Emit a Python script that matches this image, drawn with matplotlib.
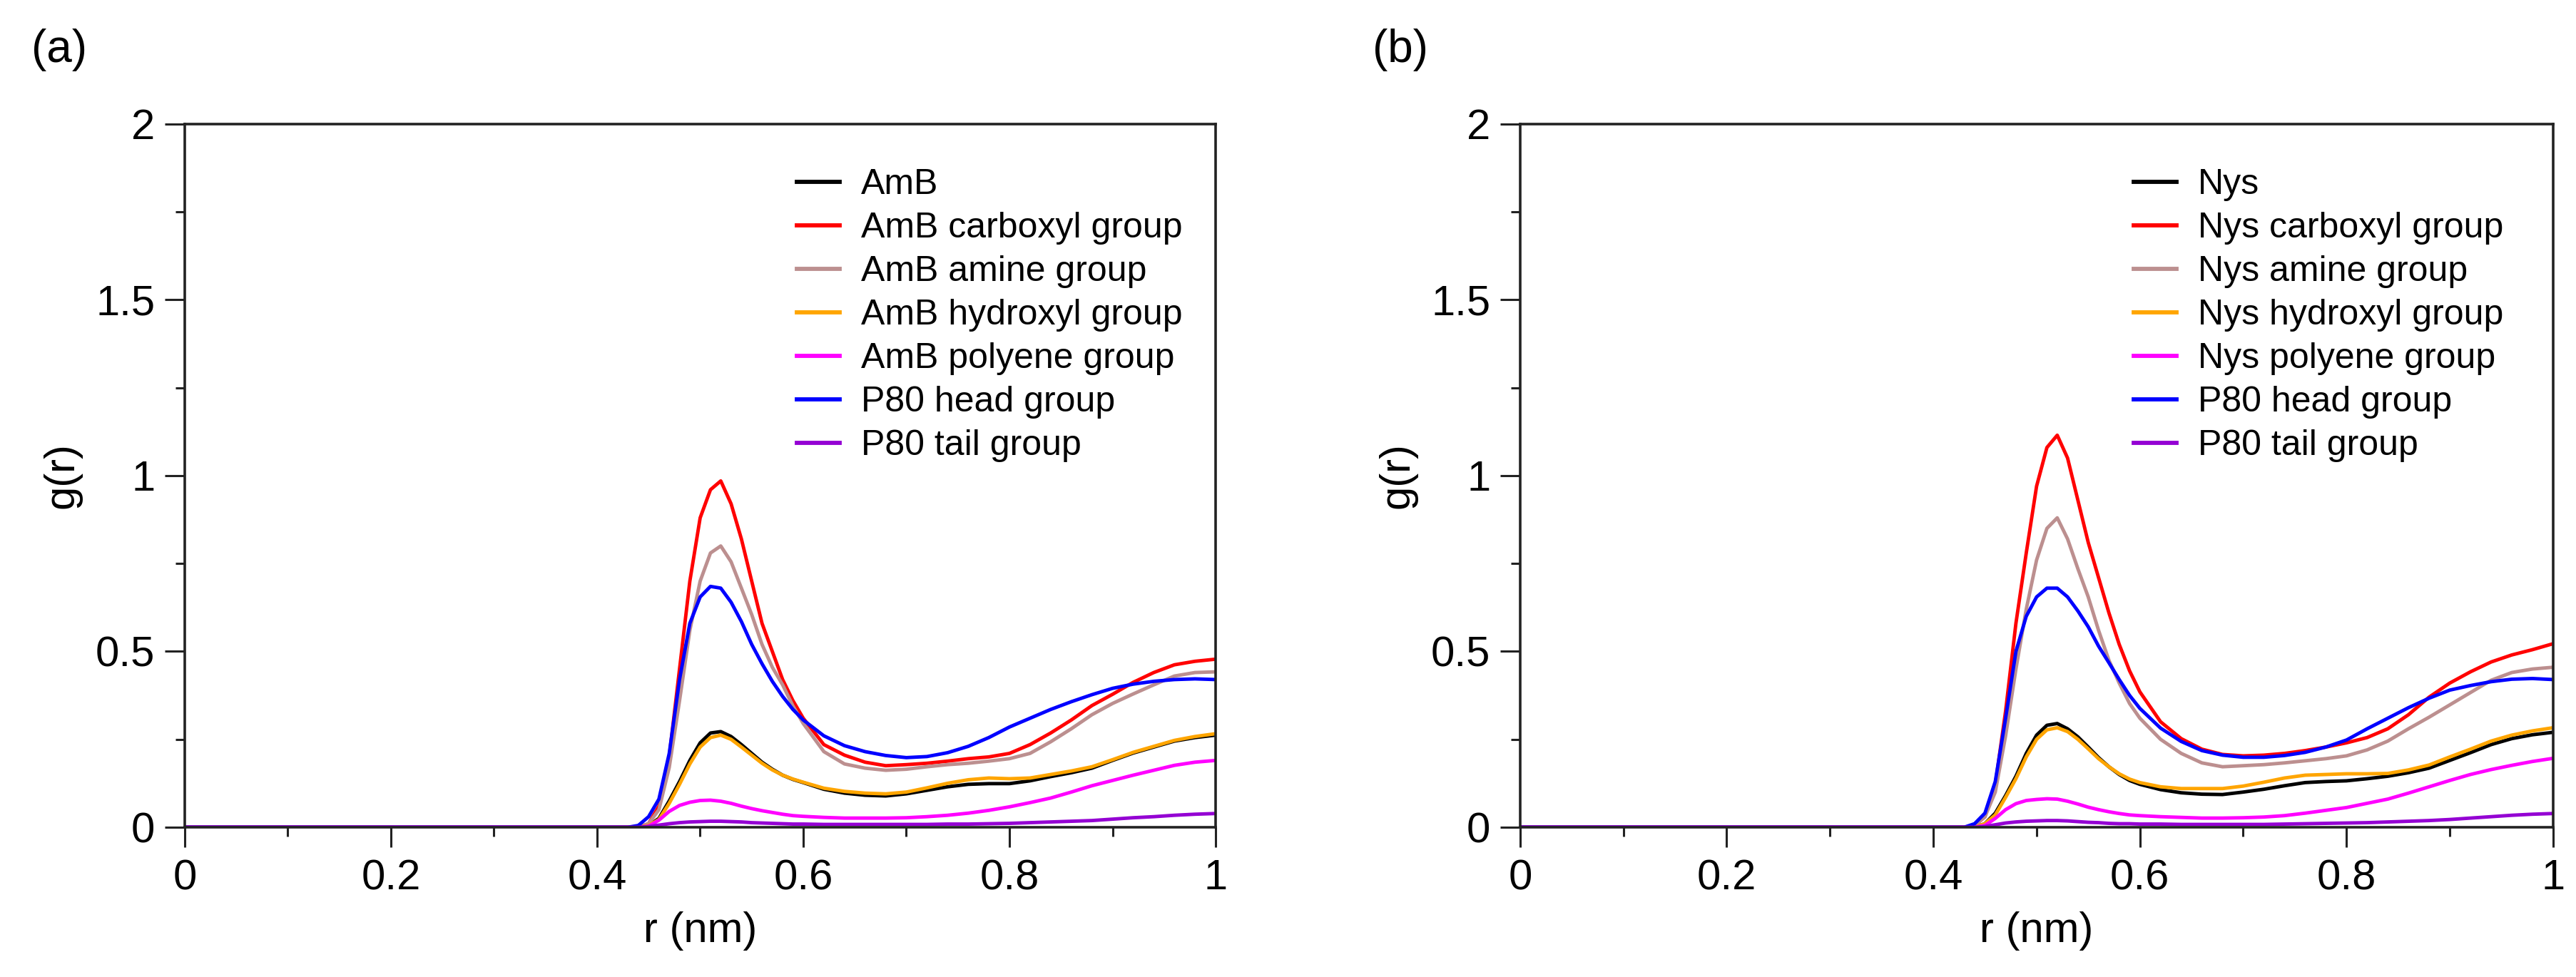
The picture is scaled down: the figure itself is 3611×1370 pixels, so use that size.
import matplotlib
matplotlib.use("Agg")
import matplotlib.pyplot as plt
from matplotlib.ticker import MultipleLocator, FuncFormatter

plt.rcParams['font.family'] = ['Liberation Sans', 'DejaVu Sans']

# r grid (nm)
r = [0, 0.43, 0.44, 0.45, 0.46, 0.47, 0.48, 0.49, 0.50, 0.51, 0.52, 0.53, 0.54,
     0.55, 0.56, 0.57, 0.58, 0.59, 0.60, 0.62, 0.64, 0.66, 0.68, 0.70, 0.72,
     0.74, 0.76, 0.78, 0.80, 0.82, 0.84, 0.86, 0.88, 0.90, 0.92, 0.94, 0.96,
     0.98, 1.00]

# (a) AmB
amb_total = [0, 0, 0, 0.005, 0.025, 0.075, 0.13, 0.19, 0.24, 0.268, 0.272, 0.258, 0.235,
             0.21, 0.185, 0.165, 0.148, 0.136, 0.127, 0.108, 0.097, 0.091, 0.089, 0.095, 0.105,
             0.115, 0.122, 0.124, 0.124, 0.132, 0.144, 0.155, 0.168, 0.19, 0.211, 0.228, 0.245,
             0.255, 0.262]
amb_carboxyl = [0, 0, 0, 0.01, 0.06, 0.20, 0.45, 0.70, 0.88, 0.96, 0.985, 0.92, 0.82,
                0.70, 0.58, 0.50, 0.42, 0.36, 0.31, 0.235, 0.205, 0.185, 0.175, 0.178, 0.182,
                0.188, 0.195, 0.200, 0.210, 0.235, 0.268, 0.305, 0.346, 0.378, 0.412, 0.44, 0.462,
                0.472, 0.478]
amb_amine = [0, 0, 0, 0.01, 0.05, 0.17, 0.36, 0.56, 0.70, 0.78, 0.80, 0.755, 0.68,
             0.605, 0.52, 0.455, 0.405, 0.345, 0.295, 0.215, 0.18, 0.168, 0.162, 0.165, 0.172,
             0.178, 0.182, 0.188, 0.195, 0.21, 0.243, 0.28, 0.32, 0.352, 0.379, 0.405, 0.43,
             0.44, 0.442]
amb_hydroxyl = [0, 0, 0, 0.005, 0.022, 0.068, 0.122, 0.18, 0.228, 0.255, 0.262, 0.25, 0.228,
                0.205, 0.182, 0.163, 0.148, 0.137, 0.128, 0.111, 0.102, 0.097, 0.095, 0.10, 0.112,
                0.125, 0.135, 0.14, 0.138, 0.14, 0.15, 0.16, 0.172, 0.192, 0.213, 0.23, 0.247,
                0.258, 0.266]
amb_polyene = [0, 0, 0, 0.003, 0.02, 0.045, 0.062, 0.071, 0.076, 0.077, 0.074, 0.068, 0.06,
               0.053, 0.047, 0.042, 0.037, 0.033, 0.031, 0.028, 0.026, 0.026, 0.026, 0.027, 0.03,
               0.034, 0.04, 0.048, 0.058, 0.07, 0.083, 0.1, 0.118, 0.133, 0.148, 0.162, 0.176,
               0.185, 0.19]
amb_head = [0, 0, 0.005, 0.03, 0.08, 0.21, 0.42, 0.58, 0.655, 0.685, 0.68, 0.64, 0.585,
            0.52, 0.465, 0.415, 0.372, 0.335, 0.305, 0.26, 0.232, 0.215, 0.204, 0.198, 0.201,
            0.212, 0.23, 0.255, 0.285, 0.31, 0.335, 0.357, 0.377, 0.395, 0.407, 0.415, 0.42,
            0.422, 0.42]
amb_tail = [0, 0, 0, 0.002, 0.006, 0.01, 0.013, 0.015, 0.016, 0.017, 0.017, 0.016, 0.015,
            0.013, 0.012, 0.011, 0.01, 0.009, 0.009, 0.008, 0.008, 0.008, 0.008, 0.008, 0.008,
            0.009, 0.009, 0.01, 0.011, 0.013, 0.015, 0.017, 0.019, 0.023, 0.027, 0.03, 0.034,
            0.037, 0.039]

# (b) Nys
nys_total = [0, 0, 0, 0.01, 0.04, 0.09, 0.145, 0.21, 0.262, 0.29, 0.295, 0.28, 0.257,
             0.228, 0.198, 0.172, 0.15, 0.133, 0.122, 0.107, 0.098, 0.094, 0.093, 0.1, 0.108,
             0.118, 0.127, 0.13, 0.132, 0.138, 0.145, 0.155, 0.168, 0.19, 0.212, 0.235, 0.252,
             0.263, 0.27]
nys_carboxyl = [0, 0, 0.005, 0.03, 0.12, 0.33, 0.58, 0.78, 0.97, 1.08, 1.115, 1.05, 0.93,
                0.81, 0.71, 0.61, 0.52, 0.445, 0.385, 0.30, 0.252, 0.222, 0.207, 0.203, 0.205,
                0.21, 0.218, 0.228, 0.24, 0.255, 0.28, 0.32, 0.37, 0.41, 0.442, 0.47, 0.49,
                0.505, 0.522]
nys_amine = [0, 0, 0.005, 0.03, 0.10, 0.26, 0.45, 0.62, 0.76, 0.85, 0.88, 0.82, 0.735,
             0.655, 0.56, 0.475, 0.41, 0.352, 0.31, 0.25, 0.21, 0.183, 0.172, 0.175, 0.178,
             0.183, 0.189, 0.195, 0.203, 0.22, 0.245, 0.28, 0.313, 0.348, 0.383, 0.418, 0.44,
             0.45, 0.455]
nys_hydroxyl = [0, 0, 0, 0.01, 0.035, 0.085, 0.138, 0.2, 0.25, 0.277, 0.283, 0.272, 0.25,
                0.223, 0.195, 0.172, 0.152, 0.137, 0.127, 0.115, 0.11, 0.11, 0.11, 0.117, 0.128,
                0.14, 0.148, 0.15, 0.152, 0.152, 0.153, 0.163, 0.177, 0.2, 0.222, 0.245, 0.262,
                0.274, 0.283]
nys_polyene = [0, 0, 0, 0.005, 0.025, 0.05, 0.067, 0.076, 0.079, 0.081, 0.08, 0.074, 0.066,
               0.057, 0.05, 0.044, 0.039, 0.035, 0.033, 0.03, 0.028, 0.026, 0.026, 0.027, 0.029,
               0.033, 0.04, 0.048, 0.056, 0.068, 0.08, 0.097, 0.115, 0.133, 0.15, 0.164, 0.176,
               0.187, 0.196]
nys_head = [0, 0, 0.01, 0.04, 0.13, 0.31, 0.50, 0.60, 0.655, 0.68, 0.68, 0.655, 0.615,
            0.57, 0.515, 0.468, 0.42, 0.375, 0.338, 0.282, 0.244, 0.218, 0.205, 0.199, 0.199,
            0.204, 0.213, 0.228, 0.248, 0.28, 0.31, 0.34, 0.367, 0.39, 0.403, 0.414, 0.421,
            0.423, 0.42]
nys_tail = [0, 0, 0, 0.002, 0.007, 0.012, 0.015, 0.017, 0.018, 0.019, 0.019, 0.018, 0.016,
            0.014, 0.013, 0.011, 0.01, 0.01, 0.009, 0.009, 0.008, 0.008, 0.008, 0.008, 0.008,
            0.009, 0.01, 0.011, 0.012, 0.013, 0.015, 0.017, 0.019, 0.022, 0.026, 0.03, 0.034,
            0.037, 0.039]

colors = ['black', '#ff0000', '#bc8f8f', '#ffa500', '#ff00ff', '#0000ff', '#9400d3']
amb_labels = ['AmB', 'AmB carboxyl group', 'AmB amine group', 'AmB hydroxyl group',
              'AmB polyene group', 'P80 head group', 'P80 tail group']
nys_labels = ['Nys', 'Nys carboxyl group', 'Nys amine group', 'Nys hydroxyl group',
              'Nys polyene group', 'P80 head group', 'P80 tail group']
amb_series = [amb_total, amb_carboxyl, amb_amine, amb_hydroxyl, amb_polyene, amb_head, amb_tail]
nys_series = [nys_total, nys_carboxyl, nys_amine, nys_hydroxyl, nys_polyene, nys_head, nys_tail]

fig = plt.figure(figsize=(36.11, 13.70), dpi=100)
ax1 = fig.add_axes([0.0717, 0.1533, 0.4002, 0.7197])
ax2 = fig.add_axes([0.5901, 0.1533, 0.4010, 0.7197])

fmt = FuncFormatter(lambda v, p: '%g' % v)

for ax, series, labels in [(ax1, amb_series, amb_labels), (ax2, nys_series, nys_labels)]:
    for ys, c, lab in zip(series, colors, labels):
        ax.plot(r, ys, color=c, lw=3.5, label=lab)
    ax.set_xlim(0, 1)
    ax.set_ylim(0, 2)
    ax.xaxis.set_major_locator(MultipleLocator(0.2))
    ax.xaxis.set_minor_locator(MultipleLocator(0.1))
    ax.yaxis.set_major_locator(MultipleLocator(0.5))
    ax.yaxis.set_minor_locator(MultipleLocator(0.25))
    ax.xaxis.set_major_formatter(fmt)
    ax.yaxis.set_major_formatter(fmt)
    ax.tick_params(which='both', direction='out', top=False, right=False, width=2.2,
                   color='#222222')
    ax.tick_params(which='major', length=20, labelsize=43)
    ax.tick_params(which='minor', length=9.5)
    ax.tick_params(axis='x', which='major', pad=12)
    ax.tick_params(axis='y', which='major', pad=10)
    for s in ax.spines.values():
        s.set_linewidth(2.6)
        s.set_color('#222222')
    ax.set_xlabel('r (nm)', fontsize=43, va='center')
    ax.xaxis.set_label_coords(0.5, -0.148)
    ax.set_ylabel('g(r)', fontsize=43, va='center')
    ax.yaxis.set_label_coords(-0.119, 0.5)
    leg = ax.legend(loc='upper left', bbox_to_anchor=(0.594, 0.937), frameon=False,
                    fontsize=36, borderpad=0, borderaxespad=0, handlelength=1.2,
                    handletextpad=0.6, labelspacing=0.3)
    for h in leg.get_lines():
        h.set_linewidth(4.2)

fig.text(0.023, 0.949, '(a)', fontsize=46, ha='center', va='center')
fig.text(0.5437, 0.949, '(b)', fontsize=46, ha='center', va='center')

fig.savefig('out.png', dpi=100)
